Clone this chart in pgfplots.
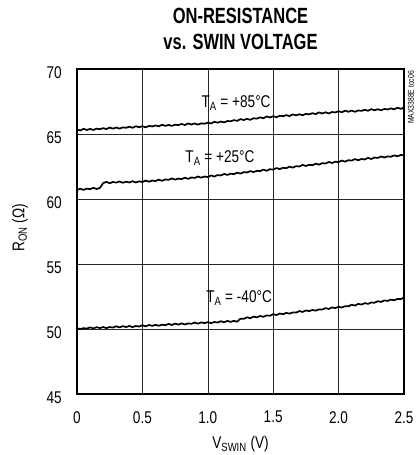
\documentclass[border=0pt]{standalone}
\usepackage{fontspec}
\setmainfont{Liberation Sans}[FakeStretch=0.8]
\newfontfamily\titlefont{Liberation Sans}[FakeStretch=0.75]
\usepackage{pgfplots}
\pgfplotsset{compat=1.18}
\newcommand\lbl{\fontsize{17bp}{20bp}\selectfont}
\begin{document}
\begin{tikzpicture}
\path[use as bounding box] (-77bp,-61bp) rectangle (340bp,394bp);
\begin{axis}[
  at={(0,0)}, anchor=south west,
  scale only axis, width=327bp, height=325bp,
  xmin=0, xmax=2.5, ymin=45, ymax=70,
  xtick={0,0.5,1,1.5,2,2.5},
  xticklabels={0,0.5,1.0,1.5,2.0,2.5},
  ytick={45,50,55,60,65,70},
  grid=major,
  major grid style={black!85, line width=0.6bp},
  axis line style={line width=2.5bp},
  major tick length=0pt,
  /pgf/number format/assume math mode=true,
  tick label style={font=\lbl},
  xticklabel style={anchor=north, inner sep=0pt, yshift=-17bp},
  yticklabel style={anchor=east, inner sep=0pt, xshift=-15bp, yshift=-4bp},
  xlabel={V\textsubscript{SWIN} (V)},
  xlabel style={at={(axis description cs:0.5,0)}, anchor=base, yshift=-54.7bp, font=\lbl},
]
% TA = +85 C
\addplot[black, no markers, line width=1.7bp, line join=round] coordinates {
(0,65.35)(0.025,65.27)(0.05,65.40)(0.075,65.31)(0.1,65.39)(0.125,65.31)(0.15,65.41)(0.175,65.37)(0.2,65.45)(0.225,65.38)
(0.25,65.50)(0.275,65.41)(0.3,65.50)(0.325,65.41)(0.35,65.51)(0.375,65.48)(0.4,65.56)(0.425,65.48)(0.45,65.60)(0.475,65.52)
(0.5,65.60)(0.525,65.51)(0.55,65.62)(0.575,65.58)(0.6,65.66)(0.625,65.59)(0.65,65.71)(0.675,65.62)(0.7,65.70)(0.725,65.62)
(0.75,65.72)(0.775,65.68)(0.8,65.77)(0.825,65.69)(0.85,65.81)(0.875,65.73)(0.9,65.81)(0.925,65.72)(0.95,65.82)(0.975,65.79)
(1.0,65.87)(1.025,65.81)(1.05,65.94)(1.075,65.87)(1.1,65.96)(1.125,65.89)(1.15,66.00)(1.175,65.98)(1.2,66.07)(1.225,66.01)
(1.25,66.15)(1.275,66.07)(1.3,66.17)(1.325,66.09)(1.35,66.21)(1.375,66.18)(1.4,66.28)(1.425,66.21)(1.45,66.35)(1.475,66.27)
(1.5,66.37)(1.525,66.29)(1.55,66.40)(1.575,66.37)(1.6,66.45)(1.625,66.38)(1.65,66.51)(1.675,66.43)(1.7,66.52)(1.725,66.44)
(1.75,66.55)(1.775,66.51)(1.8,66.60)(1.825,66.53)(1.85,66.66)(1.875,66.58)(1.9,66.67)(1.925,66.58)(1.95,66.69)(1.975,66.66)
(2.0,66.75)(2.025,66.67)(2.05,66.80)(2.075,66.71)(2.1,66.80)(2.125,66.71)(2.15,66.81)(2.175,66.78)(2.2,66.86)(2.225,66.79)
(2.25,66.91)(2.275,66.82)(2.3,66.91)(2.325,66.82)(2.35,66.93)(2.375,66.89)(2.4,66.97)(2.425,66.90)(2.45,67.02)(2.475,66.94)
(2.5,67.02)
};
% TA = +25 C
\addplot[black, no markers, line width=1.7bp, line join=round] coordinates {
(0,60.69)(0.025,60.79)(0.05,60.70)(0.075,60.80)(0.1,60.76)(0.125,60.86)(0.15,60.77)(0.175,60.85)(0.2,61.22)(0.225,61.32)
(0.25,61.21)(0.275,61.31)(0.3,61.26)(0.325,61.35)(0.35,61.25)(0.375,61.33)(0.4,61.27)(0.425,61.37)(0.45,61.27)(0.475,61.36)
(0.5,61.31)(0.525,61.42)(0.55,61.33)(0.575,61.42)(0.6,61.38)(0.625,61.49)(0.65,61.40)(0.675,61.51)(0.7,61.47)(0.725,61.58)
(0.75,61.49)(0.775,61.57)(0.8,61.53)(0.825,61.64)(0.85,61.55)(0.875,61.66)(0.9,61.62)(0.925,61.73)(0.95,61.64)(0.975,61.73)
(1.0,61.69)(1.025,61.81)(1.05,61.73)(1.075,61.84)(1.1,61.81)(1.125,61.93)(1.15,61.85)(1.175,61.95)(1.2,61.91)(1.225,62.03)
(1.25,61.95)(1.275,62.07)(1.3,62.04)(1.325,62.15)(1.35,62.07)(1.375,62.17)(1.4,62.14)(1.425,62.26)(1.45,62.17)(1.475,62.29)
(1.5,62.26)(1.525,62.38)(1.55,62.30)(1.575,62.40)(1.6,62.37)(1.625,62.49)(1.65,62.41)(1.675,62.53)(1.7,62.50)(1.725,62.62)
(1.75,62.54)(1.775,62.63)(1.8,62.60)(1.825,62.72)(1.85,62.64)(1.875,62.76)(1.9,62.73)(1.925,62.85)(1.95,62.77)(1.975,62.87)
(2.0,62.84)(2.025,62.96)(2.05,62.87)(2.075,62.99)(2.1,62.95)(2.125,63.07)(2.15,62.98)(2.175,63.08)(2.2,63.04)(2.225,63.16)
(2.25,63.08)(2.275,63.19)(2.3,63.16)(2.325,63.27)(2.35,63.19)(2.375,63.28)(2.4,63.25)(2.425,63.36)(2.45,63.28)(2.475,63.39)
(2.5,63.36)
};
% TA = -40 C
\addplot[black, no markers, line width=1.7bp, line join=round] coordinates {
(0,50.07)(0.025,49.99)(0.05,50.07)(0.075,50.03)(0.1,50.13)(0.125,50.04)(0.15,50.14)(0.175,50.07)(0.2,50.15)(0.225,50.07)
(0.25,50.15)(0.275,50.11)(0.3,50.21)(0.325,50.12)(0.35,50.22)(0.375,50.15)(0.4,50.23)(0.425,50.15)(0.45,50.23)(0.475,50.19)
(0.5,50.29)(0.525,50.20)(0.55,50.31)(0.575,50.24)(0.6,50.32)(0.625,50.25)(0.65,50.33)(0.675,50.29)(0.7,50.39)(0.725,50.31)
(0.75,50.41)(0.775,50.34)(0.8,50.43)(0.825,50.35)(0.85,50.43)(0.875,50.40)(0.9,50.50)(0.925,50.41)(0.95,50.51)(0.975,50.45)
(1.0,50.53)(1.025,50.45)(1.05,50.54)(1.075,50.50)(1.1,50.60)(1.125,50.52)(1.15,50.62)(1.175,50.55)(1.2,50.63)(1.225,50.56)
(1.25,50.80)(1.275,50.78)(1.3,50.90)(1.325,50.83)(1.35,50.95)(1.375,50.90)(1.4,51.00)(1.425,50.94)(1.45,51.04)(1.475,51.02)
(1.5,51.14)(1.525,51.07)(1.55,51.19)(1.575,51.14)(1.6,51.24)(1.625,51.18)(1.65,51.28)(1.675,51.26)(1.7,51.38)(1.725,51.31)
(1.75,51.43)(1.775,51.37)(1.8,51.47)(1.825,51.41)(1.85,51.51)(1.875,51.49)(1.9,51.61)(1.925,51.54)(1.95,51.66)(1.975,51.61)
(2.0,51.71)(2.025,51.65)(2.05,51.76)(2.075,51.74)(2.1,51.87)(2.125,51.80)(2.15,51.93)(2.175,51.88)(2.2,51.99)(2.225,51.93)
(2.25,52.04)(2.275,52.02)(2.3,52.14)(2.325,52.08)(2.35,52.20)(2.375,52.16)(2.4,52.26)(2.425,52.21)(2.45,52.31)(2.475,52.30)
(2.5,52.42)
};
\node[anchor=base, font=\lbl] at (axis cs:1.216,67.02) {T\textsubscript{A} = +85°C};
\node[anchor=base, font=\lbl] at (axis cs:1.093,62.77) {T\textsubscript{A} = +25°C};
\node[anchor=base, font=\lbl] at (axis cs:1.239,52.02) {T\textsubscript{A} = -40°C};
\end{axis}
\node[rotate=90, font=\lbl] at (-57bp,166bp) {R\textsubscript{ON} (Ω)};
\node[anchor=base, font=\titlefont\bfseries\fontsize{22bp}{26bp}\selectfont] at (163.5bp,370bp) {ON-RESISTANCE};
\node[anchor=base, font=\titlefont\bfseries\fontsize{22bp}{26bp}\selectfont] at (163.5bp,344bp) {vs. SWIN VOLTAGE};
\node[rotate=90, font=\fontsize{8.5bp}{10bp}\selectfont] at (334bp,296.5bp) {MAX3388E toc06};
\end{tikzpicture}
\end{document}
